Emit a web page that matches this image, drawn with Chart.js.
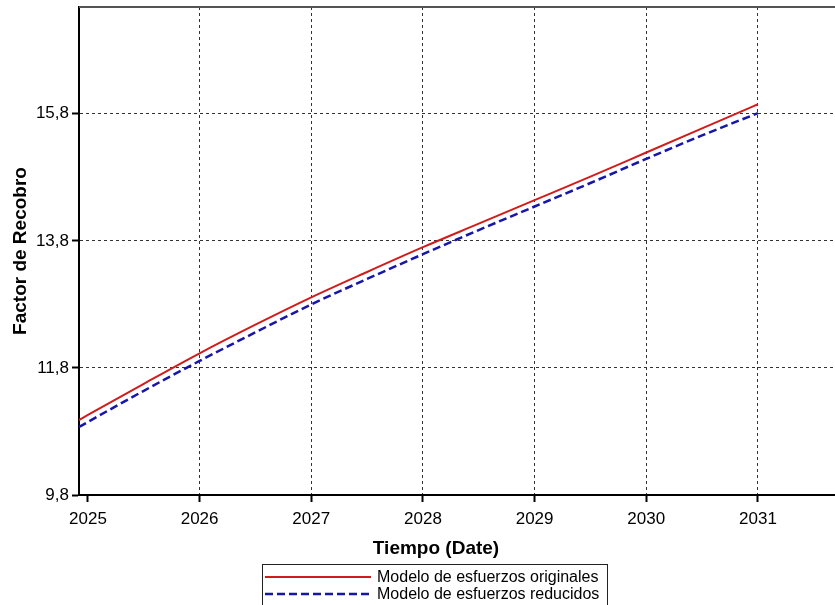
<!DOCTYPE html>
<html>
<head>
<meta charset="utf-8">
<script src="https://cdn.jsdelivr.net/npm/chart.js@4.4.0/dist/chart.umd.min.js"></script>
<style>
  html, body { margin: 0; padding: 0; background: #fff; }
  #wrap { width: 835px; height: 605px; }
</style>
</head>
<body>
<div id="wrap"><canvas id="myChart" width="835" height="605"></canvas></div>
<script>
// valores
var years = [2024.92, 2025, 2025.5, 2026, 2026.5, 2027, 2027.5, 2028, 2028.5, 2029, 2029.5, 2030, 2030.5, 2031];
var originales = [10.98, 11.06, 11.55, 12.03, 12.48, 12.91, 13.31, 13.70, 14.07, 14.44, 14.81, 15.19, 15.57, 15.95];
var reducidos = [10.87, 10.95, 11.44, 11.91, 12.36, 12.80, 13.20, 13.59, 13.97, 14.34, 14.71, 15.09, 15.46, 15.81];
var xTicks = [2025, 2026, 2027, 2028, 2029, 2030, 2031];
var yTicks = [9.8, 11.8, 13.8, 15.8];
var labels = ['Modelo de esfuerzos originales', 'Modelo de esfuerzos reducidos'];
var xTitle = 'Tiempo (Date)';
var yTitle = 'Factor de Recobro';

var FONT = "'Liberation Sans', Arial, sans-serif";

function toPoints(vals){
    return vals.map(function(v, i){ return {x: years[i], y: v}; });
}

// linea superior, titulo X y leyenda con recuadro
const extras = {
    id: 'extras',
    afterDraw: function(chart){
        var ctx = chart.ctx;
        var a = chart.chartArea;
        ctx.save();
        ctx.strokeStyle = '#555';
        ctx.lineWidth = 2;
        ctx.beginPath();
        ctx.moveTo(a.left, a.top);
        ctx.lineTo(a.right, a.top);
        ctx.stroke();

        ctx.fillStyle = '#000';
        ctx.font = 'bold 19px ' + FONT;
        ctx.textAlign = 'center';
        ctx.textBaseline = 'middle';
        ctx.fillText(xTitle, 436, 549);

        // leyenda
        ctx.strokeStyle = '#222';
        ctx.lineWidth = 1;
        ctx.strokeRect(262.5, 564.5, 345, 60);
        ctx.font = '16px ' + FONT;
        ctx.textAlign = 'left';
        chart.data.datasets.forEach(function(ds, i){
            var y = 577 + i * 17;
            ctx.strokeStyle = ds.borderColor;
            ctx.lineWidth = ds.borderWidth;
            ctx.setLineDash(ds.borderDash || []);
            ctx.beginPath();
            ctx.moveTo(265, y);
            ctx.lineTo(371, y);
            ctx.stroke();
            ctx.setLineDash([]);
            ctx.fillStyle = '#000';
            ctx.fillText(ds.label, 377, y + 1);
        });
        ctx.restore();
    }
};

const data = {
    datasets: [
        {
            label: labels[0],
            data: toPoints(originales),
            borderColor: '#d01c1c',
            borderWidth: 2,
            pointRadius: 0,
            cubicInterpolationMode: 'monotone',
        },
        {
            label: labels[1],
            data: toPoints(reducidos),
            borderColor: '#1616a8',
            borderWidth: 2.5,
            borderDash: [8, 4],
            pointRadius: 0,
            cubicInterpolationMode: 'monotone',
        },
    ],
};

const config = {
    type: 'line',
    data: data,
    plugins: [extras],
    options: {
        responsive: false,
        animation: false,
        layout: { padding: { left: 0, right: 0, top: 7, bottom: 0 } },
        plugins: {
            legend: { display: false },
            tooltip: { enabled: false },
        },
        scales: {
            x: {
                type: 'linear',
                min: 2024.92,
                max: 2031.69,
                afterBuildTicks: function(scale){
                    scale.ticks = xTicks.map(function(v){ return {value: v}; });
                },
                afterFit: function(scale){
                    scale.height = 110;
                    scale.paddingLeft = 0;
                    scale.paddingRight = 0;
                },
                ticks: {
                    color: '#000',
                    font: { size: 17, family: FONT },
                    padding: 7,
                    maxRotation: 0,
                    autoSkip: false,
                    callback: function(value){ return String(value); }
                },
                grid: {
                    color: function(c){
                        return (c.tick && c.tick.value === 2025) ? 'rgba(0,0,0,0)' : '#333';
                    },
                    lineWidth: 1,
                    tickLength: 7,
                    tickColor: '#000',
                    tickWidth: 2,
                    tickBorderDash: [],
                },
                border: { display: true, color: '#000', width: 2, dash: [3, 3] },
                title: { display: false },
            },
            y: {
                min: 9.8,
                max: 17.48,
                afterBuildTicks: function(scale){
                    scale.ticks = yTicks.map(function(v){ return {value: v}; });
                },
                afterFit: function(scale){
                    scale.width = 79;
                    scale.paddingTop = 0;
                    scale.paddingBottom = 0;
                },
                ticks: {
                    color: '#000',
                    font: { size: 17, family: FONT },
                    padding: 3,
                    callback: function(value){ return value.toFixed(1).replace('.', ','); }
                },
                grid: {
                    color: function(c){
                        return (c.tick && c.tick.value === 9.8) ? 'rgba(0,0,0,0)' : '#333';
                    },
                    lineWidth: 1,
                    tickLength: 7,
                    tickColor: '#000',
                    tickWidth: 2,
                    tickBorderDash: [],
                },
                border: { display: true, color: '#000', width: 2, dash: [3, 3] },
                title: {
                    display: true,
                    text: yTitle,
                    color: '#000',
                    font: { size: 19, weight: 'bold', family: FONT },
                    padding: { top: 9, bottom: 0 },
                },
            },
        },
    },
};

var myChart = new Chart(document.getElementById('myChart'), config);
</script>
</body>
</html>
